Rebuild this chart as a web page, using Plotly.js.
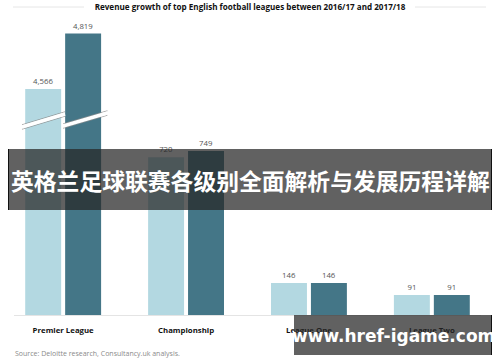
<!DOCTYPE html>
<html>
<head>
<meta charset="utf-8">
<script src="https://cdn.plot.ly/plotly-3.0.1.min.js"></script>
<style>html,body{margin:0;padding:0;background:#fff;}#chart{width:500px;height:362px;}</style>
</head>
<body>
<div id="chart"></div>
<script>
// ---- data ----
var categories = ["Premier League", "Championship", "League One", "League Two"];
var revenue201617 = [4566, 720, 146, 91];
var revenue201718 = [4819, 749, 146, 91];
var seriesNames = ["2016/17", "2017/18"];
var chartTitle = "Revenue growth of top English football leagues between 2016/17 and 2017/18";
var sourceText = "Source: Deloitte research, Consultancy.uk analysis.";
var bannerText = "英格兰足球联赛各级别全面解析与发展历程详解";
var watermarkText = "www.href-igame.com";

// ---- layout geometry ----
var W = 500, H = 362;
var M = {l: 14, r: 19, t: 20, b: 47};
var plotW = W - M.l - M.r, plotH = H - M.t - M.b;
var breakPx = 120;                 // pixel row of the axis break
var lowerFrac = (H - M.b - breakPx) / plotH;
var lowerMax = 890;                // lower panel range top
var upperMin = 4424, upperMax = 4881;

function px2x(px) { return (px - M.l) / plotW; }
function px2y(py) { return (H - M.b - py) / plotH; }

var lightColor = "#b3d8e1", darkColor = "#447687";

function fmt(v) { return v.toLocaleString("en-US"); }
function lowerText(arr) { return arr.map(function (v) { return v > lowerMax ? "" : fmt(v); }); }
function upperVals(arr) { return arr.map(function (v) { return v > lowerMax ? v : null; }); }
function upperText(arr) { return arr.map(function (v) { return v > lowerMax ? fmt(v) : ""; }); }

var textFont = {family: "Open Sans, sans-serif", size: 7.8, color: "#555"};

var traces = [
  {type: "bar", name: seriesNames[0], x: categories, y: revenue201617, text: lowerText(revenue201617),
   textposition: "outside", textfont: textFont, marker: {color: lightColor}, xaxis: "x", yaxis: "y",
   cliponaxis: false, constraintext: "none", hoverinfo: "x+y"},
  {type: "bar", name: seriesNames[1], x: categories, y: revenue201718, text: lowerText(revenue201718),
   textposition: "outside", textfont: textFont, marker: {color: darkColor}, xaxis: "x", yaxis: "y",
   cliponaxis: false, constraintext: "none", hoverinfo: "x+y"},
  {type: "bar", name: seriesNames[0], x: categories, y: upperVals(revenue201617), text: upperText(revenue201617),
   textposition: "outside", textfont: textFont, marker: {color: lightColor}, xaxis: "x2", yaxis: "y2",
   cliponaxis: false, constraintext: "none", showlegend: false, hoverinfo: "x+y"},
  {type: "bar", name: seriesNames[1], x: categories, y: upperVals(revenue201718), text: upperText(revenue201718),
   textposition: "outside", textfont: textFont, marker: {color: darkColor}, xaxis: "x2", yaxis: "y2",
   cliponaxis: false, constraintext: "none", showlegend: false, hoverinfo: "x+y"}
];

// break marks across the Premier League bars (decoration)
function breakShapes(xa, xb, ya, yb) {
  var out = [];
  [[-2.2, "#8a8a8a", 0.8], [2.2, "#8a8a8a", 0.8], [0, "#ffffff", 3.4]].forEach(function (s) {
    out.push({type: "line", xref: "x", yref: "paper", x0: xa, x1: xb,
      y0: px2y(ya + s[0]), y1: px2y(yb + s[0]), line: {color: s[1], width: s[2]}, layer: "above"});
  });
  return out;
}
var shapes = [];
shapes = shapes.concat(breakShapes(-0.335, 0.015, 127, 114));
shapes = shapes.concat(breakShapes(0.0, 0.36, 126, 113));
// title side rules
shapes.push({type: "line", xref: "paper", yref: "paper", x0: px2x(13), x1: px2x(84), y0: px2y(7), y1: px2y(7), line: {color: "#e6e6e6", width: 1}});
shapes.push({type: "line", xref: "paper", yref: "paper", x0: px2x(415), x1: px2x(486), y0: px2y(7), y1: px2y(7), line: {color: "#e6e6e6", width: 1}});
// overlay banners
shapes.push({type: "rect", xref: "paper", yref: "paper", x0: px2x(8), x1: px2x(492), y0: px2y(210), y1: px2y(149),
  fillcolor: "rgba(38,38,38,0.73)", line: {width: 0}, layer: "above"});
shapes.push({type: "line", xref: "paper", yref: "paper", x0: px2x(8.5), x1: px2x(8.5), y0: px2y(210), y1: px2y(149), line: {color: "#111", width: 1}, layer: "above"});
shapes.push({type: "line", xref: "paper", yref: "paper", x0: px2x(491.5), x1: px2x(491.5), y0: px2y(210), y1: px2y(149), line: {color: "#111", width: 1}, layer: "above"});
shapes.push({type: "rect", xref: "paper", yref: "paper", x0: px2x(294), x1: px2x(492), y0: px2y(355), y1: px2y(315),
  fillcolor: "rgba(38,38,38,0.73)", line: {width: 0}, layer: "above"});
shapes.push({type: "line", xref: "paper", yref: "paper", x0: px2x(491.5), x1: px2x(491.5), y0: px2y(355), y1: px2y(315), line: {color: "#111", width: 1}, layer: "above"});

var annotations = [
  {xref: "paper", yref: "paper", x: px2x(13), y: px2y(353), xanchor: "left", yanchor: "middle", showarrow: false,
   text: sourceText, font: {family: "Open Sans, sans-serif", size: 7, color: "#8a8a8a"}},
  {xref: "paper", yref: "paper", x: px2x(250), y: px2y(180), xanchor: "center", yanchor: "middle", showarrow: false,
   text: bannerText, font: {family: "Noto Sans CJK SC, sans-serif", size: 22.8, color: "#ffffff", weight: "bold"}},
  {xref: "paper", yref: "paper", x: px2x(393), y: px2y(336), xanchor: "center", yanchor: "middle", showarrow: false,
   text: watermarkText, font: {family: "DejaVu Sans, sans-serif", size: 17, color: "#ffffff", weight: "bold"}}
];

var layout = {
  width: W, height: H,
  margin: M,
  paper_bgcolor: "#fff", plot_bgcolor: "rgba(0,0,0,0)",
  showlegend: false,
  barmode: "group", bargap: 0.35, bargroupgap: 0.1,
  title: {text: chartTitle, xref: "container", x: 0.5, xanchor: "center", yref: "container", y: 1 - 7 / H, yanchor: "middle",
    font: {family: "Open Sans, sans-serif", size: 8.1, color: "#111", weight: "bold"}},
  xaxis: {domain: [0, 1], anchor: "y", type: "category", range: [-0.4, 3.4], showline: true, linecolor: "#e4e4e4", linewidth: 1,
    ticks: "", showgrid: false, zeroline: false, tickfont: {family: "Open Sans, sans-serif", size: 7.8, color: "#111", weight: "bold"},
    ticklabelstandoff: 8},
  xaxis2: {domain: [0, 1], anchor: "y2", matches: "x", type: "category", range: [-0.4, 3.4], visible: false},
  yaxis: {domain: [0, lowerFrac], range: [0, lowerMax], visible: false, showgrid: false, zeroline: false},
  yaxis2: {domain: [lowerFrac, 1], range: [upperMin, upperMax], visible: false, showgrid: false, zeroline: false},
  shapes: shapes,
  annotations: annotations
};

Plotly.newPlot("chart", traces, layout, {staticPlot: true, displayModeBar: false});
</script>
</body>
</html>
